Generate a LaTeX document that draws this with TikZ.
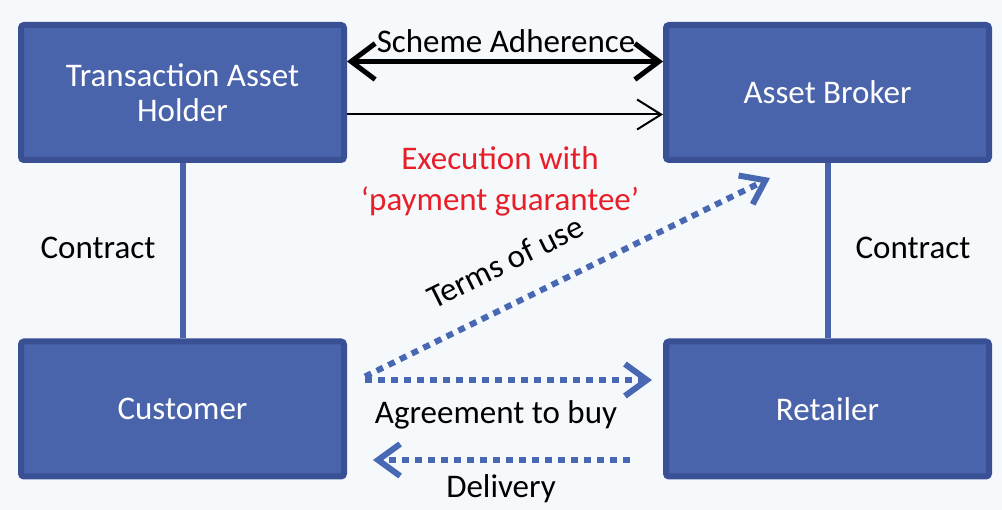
\documentclass[tikz,border=0pt]{standalone}
\usepackage{fontspec}
\setmainfont{Carlito}
\usetikzlibrary{positioning,arrows.meta,calc}

\definecolor{boxfill}{RGB}{74,100,172}
\definecolor{boxline}{RGB}{58,80,148}
\definecolor{dotblue}{RGB}{72,104,180}
\definecolor{redtxt}{RGB}{232,30,40}
\definecolor{bgcol}{RGB}{246,249,252}

\begin{document}
\begin{tikzpicture}[x=1pt,y=-1pt,
	every node/.style={font=\fontsize{33}{39}\selectfont},
	party/.style={draw=boxline,fill=boxfill,line width=6pt,rounded corners=3pt,
		minimum width=323pt,minimum height=135pt,inner sep=0pt,text=white,align=center},
	dotarrow/.style={dotblue,line width=6pt,dash pattern=on 7pt off 6pt,
		-{Straight Barb[length=22pt,width=32pt,line width=6pt]}},
	lbl/.style={text=black,inner sep=0pt}]

\useasboundingbox[fill=bgcol] (0,0) rectangle (1002,510);

\node[party](holder) at (182.5,92.5) {Transaction Asset\\[-4pt]Holder};
\node[party](broker) at (827.5,92.5) {Asset Broker};
\node[party](customer) at (182.5,409) {Customer};
\node[party](retailer) at (827.5,409) {Retailer};

% contracts
\draw[boxfill,line width=6pt](holder)--(customer);
\draw[boxfill,line width=6pt](broker)--(retailer);
\node[lbl] at (98,248) {Contract};
\node[lbl] at (913,248) {Contract};

% scheme adherence and execution
\draw[line width=5pt,{Straight Barb[length=24pt,width=36pt,line width=5pt]}-{Straight Barb[length=24pt,width=36pt,line width=5pt]}]
	([yshift=31pt]holder.east)--([yshift=31pt]broker.west);
\node[lbl] at (506,41) {Scheme Adherence};
\draw[line width=2pt,-{Straight Barb[length=24pt,width=30pt,line width=2pt]}]
	([yshift=-22pt]holder.east)--([yshift=-22pt]broker.west);
\node[lbl,text=redtxt,align=center] at (500,181) {Execution with\\[2pt]‘payment guarantee’};

% customer side
\draw[dotarrow]([shift={(18pt,-38pt)}]customer.north east)--([shift={(107pt,-15pt)}]broker.south west);
\node[lbl,rotate=26.3] at (505,262) {Terms of use};
\draw[dotarrow]([shift={(18pt,29pt)}]customer.east)--([shift={(-11pt,29pt)}]retailer.west);
\node[lbl] at (496,415) {Agreement to buy};
\draw[dotarrow]([shift={(-33pt,-51pt)}]retailer.west)--([shift={(26pt,-51pt)}]customer.east);
\node[lbl] at (501,489) {Delivery};

\end{tikzpicture}
\end{document}
